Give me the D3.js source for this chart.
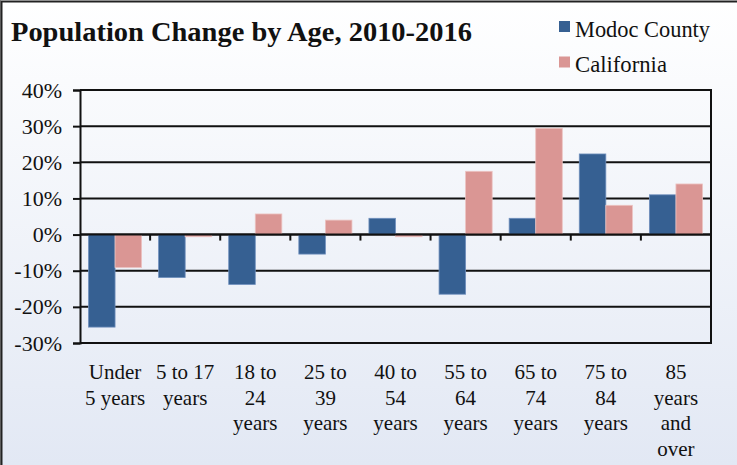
<!DOCTYPE html>
<html><head><meta charset="utf-8">
<script src="https://cdn.jsdelivr.net/npm/d3@7/dist/d3.min.js"></script>
<style>html,body{margin:0;padding:0;overflow:hidden;background:#fff}</style>
</head><body>
<svg id="c" width="737" height="465"></svg>
<script>
const categories = [["Under","5 years"],["5 to 17","years"],["18 to","24","years"],["25 to","39","years"],["40 to","54","years"],["55 to","64","years"],["65 to","74","years"],["75 to","84","years"],["85","years","and","over"]];
const seriesNames = ["Modoc County","California"];
const modoc = [-25.6, -11.9, -13.8, -5.4, 4.5, -16.5, 4.5, 22.3, 11.0];
const california = [-9.1, -0.6, 5.7, 4.0, -0.6, 17.5, 29.4, 8.1, 14.0];
const yTicks = [-30,-20,-10,0,10,20,30,40];
const colors = ["#366092","#DA9694"];
const title = "Population Change by Age, 2010-2016";

const svg = d3.select("#c");
const W = 737, H = 465;
const defs = svg.append("defs");
const grad = defs.append("linearGradient").attr("id","bg").attr("x1",0).attr("y1",0).attr("x2",0).attr("y2",1);
grad.append("stop").attr("offset","0%").attr("stop-color","#ffffff");
grad.append("stop").attr("offset","100%").attr("stop-color","#e2e8f4");
svg.append("rect").attr("width",W).attr("height",H).attr("fill","url(#bg)");
svg.append("line").attr("x1",0.5).attr("y1",0).attr("x2",0.5).attr("y2",H).attr("stroke","#999").attr("stroke-width",1);
svg.append("path").attr("d",`M1.5,${H} V1.5 H${W}`).attr("fill","none").attr("stroke","#222").attr("stroke-width",2);

const L = 80, R = 711, T = 90, B = 343;
const keys = categories.map((c,i)=>i);
const y = d3.scaleLinear().domain([-30,40]).range([B,T]);
const x0 = d3.scaleBand().domain(keys).range([L,R]).padding(0);
const x1 = d3.scaleBand().domain([0,1]).range([0,x0.bandwidth()]).paddingInner(0).paddingOuter(0.32);

const font = "'Liberation Serif','Times New Roman',serif";

// gridlines
const g = svg.append("g");
g.selectAll("line.grid").data(yTicks).join("line")
  .attr("x1",L).attr("x2",R).attr("y1",d=>y(d)).attr("y2",d=>y(d))
  .attr("stroke","#111").attr("stroke-width",2);

// bars
const data = [modoc, california];
const grp = svg.append("g").selectAll("g").data(keys).join("g")
  .attr("transform",i=>`translate(${x0(i)},0)`);
grp.selectAll("rect").data(i=>[0,1].map(s=>({s, v:data[s][i]}))).join("rect")
  .attr("x",d=>x1(d.s)).attr("width",x1.bandwidth())
  .attr("y",d=>y(Math.max(0,d.v))).attr("height",d=>Math.abs(y(d.v)-y(0)))
  .attr("fill",d=>colors[d.s])
  .attr("stroke",d=>d.s===0?"#6f8fbd":"#ecc3c1").attr("stroke-width",0.8);

// zero line on top
svg.append("line").attr("x1",L).attr("x2",R).attr("y1",y(0)).attr("y2",y(0)).attr("stroke","#111").attr("stroke-width",2);
// category tick marks
svg.selectAll("line.ct").data(keys.slice(1)).join("line")
  .attr("x1",i=>x0(i)).attr("x2",i=>x0(i)).attr("y1",y(0)).attr("y2",y(0)+6)
  .attr("stroke","#111").attr("stroke-width",2);

// y axis
const yAxis = d3.axisLeft(y).tickValues(yTicks).tickFormat(d=>d+"%").tickSize(7).tickPadding(11);
const ya = svg.append("g").attr("transform",`translate(${L},0)`).call(yAxis);
ya.select(".domain").attr("stroke","#111").attr("stroke-width",2);
ya.selectAll(".tick line").attr("stroke","#111").attr("stroke-width",2);
ya.selectAll(".tick text").attr("font-family",font).attr("font-size",22).attr("fill","#111");
// right border
svg.append("line").attr("x1",R).attr("x2",R).attr("y1",T-1).attr("y2",B+1).attr("stroke","#111").attr("stroke-width",2);

// x labels
const xl = svg.append("g").selectAll("text").data(keys).join("text")
  .attr("x",i=>x0(i)+x0.bandwidth()/2).attr("y",379)
  .attr("text-anchor","middle").attr("font-family",font).attr("font-size",21).attr("fill","#111");
xl.selectAll("tspan").data(i=>categories[i]).join("tspan")
  .attr("x",function(){return this.parentNode.getAttribute("x");})
  .attr("dy",(d,j)=>j===0?0:25.5).text(d=>d);

// title
svg.append("text").attr("x",11).attr("y",41).attr("font-family",font).attr("font-weight","bold")
  .attr("font-size",28).attr("fill","#111").attr("textLength",461).attr("lengthAdjust","spacingAndGlyphs").text(title);

// legend
const legendLen = [135, 92];
const lg = svg.append("g").selectAll("g").data(seriesNames).join("g")
  .attr("transform",(d,i)=>`translate(559,${21+i*35.5})`);
lg.append("rect").attr("width",11).attr("height",11).attr("fill",(d,i)=>colors[i]);
lg.append("text").attr("x",16).attr("y",15.5).attr("font-family",font).attr("font-size",23).attr("fill","#111")
  .attr("textLength",(d,i)=>legendLen[i]).attr("lengthAdjust","spacingAndGlyphs").text(d=>d);
</script>
</body></html>
